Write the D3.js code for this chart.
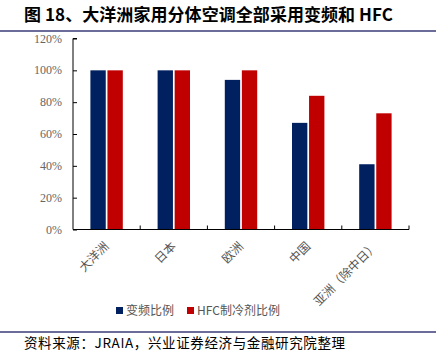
<!DOCTYPE html>
<html><head><meta charset="utf-8">
<script src="https://cdn.jsdelivr.net/npm/d3@7"></script>
<style>body{margin:0;background:#fff}svg{display:block}</style>
</head><body>
<svg id="c" width="436" height="356"></svg>
<script>
const categories = ["大洋洲","日本","欧洲","中国","亚洲（除中日）"];
const seriesNames = ["变频比例","HFC制冷剂比例"];
const inverterRatio = [100,100,94,67,41];
const hfcRatio = [100,100,100,84,73];
const yTicks = [0,20,40,60,80,100,120];
const colors = ["#002060","#C00000"];
const titleText = "图 18、大洋洲家用分体空调全部采用变频和 HFC";
const sourceText = "资料来源：JRAIA，兴业证券经济与金融研究院整理";

const svg = d3.select("#c");
const cjk = "'Noto Sans CJK SC', sans-serif";
const serif = "'Liberation Serif','Times New Roman', serif";

svg.append("text").attr("x",24).attr("y",21).text(titleText)
  .attr("font-family",cjk).attr("font-weight","bold").attr("font-size",17).attr("fill","#000")
  .attr("textLength",369).attr("lengthAdjust","spacing");
svg.append("line").attr("x1",0).attr("x2",436).attr("y1",31).attr("y2",31)
  .attr("stroke","#3b3b78").attr("stroke-width",1.5);
svg.append("line").attr("x1",0).attr("x2",436).attr("y1",332).attr("y2",332)
  .attr("stroke","#3b3b78").attr("stroke-width",1.5);
svg.append("text").attr("x",24).attr("y",348).text(sourceText)
  .attr("font-family",cjk).attr("font-size",13.5).attr("fill","#000")
  .attr("textLength",321).attr("lengthAdjust","spacing");

const x0 = d3.scaleBand().domain(categories).range([73,409]).paddingInner(0).paddingOuter(0);
const x1 = d3.scaleBand().domain([0,1]).range([0,x0.bandwidth()]).paddingInner(0.1).paddingOuter(1.02);
const y = d3.scaleLinear().domain([0,120]).range([229.5,38.5]);

const data = categories.map((c,i)=>({c, v:[inverterRatio[i],hfcRatio[i]]}));
const g = svg.append("g");
g.selectAll("g.cat").data(data).join("g").attr("class","cat")
  .attr("transform",d=>`translate(${x0(d.c)},0)`)
  .selectAll("rect").data(d=>d.v.map((v,k)=>({v,k}))).join("rect")
  .attr("x",d=>x1(d.k)).attr("width",x1.bandwidth())
  .attr("y",d=>y(d.v)).attr("height",d=>y(0)-y(d.v))
  .attr("fill",d=>colors[d.k]);

// y axis
const ya = svg.append("g").attr("transform","translate(73,0)")
  .call(d3.axisRight(y).tickValues(yTicks).tickSize(4).tickFormat(""));
ya.select(".domain").attr("stroke","#000").attr("d","M4,38.5H0V229.5");
ya.selectAll(".tick line").attr("stroke","#000");
svg.append("g").selectAll("text").data(yTicks).join("text")
  .attr("x",62).attr("y",d=>y(d)+4).attr("text-anchor","end")
  .attr("font-family",serif).attr("font-size",12).attr("fill","#666")
  .text(d=>d+"%");

// x axis
const bounds = categories.map(c=>x0(c)+x0.bandwidth());
svg.append("line").attr("x1",73).attr("x2",409).attr("y1",229.5).attr("y2",229.5).attr("stroke","#000");
svg.append("g").selectAll("line").data(bounds).join("line")
  .attr("x1",d=>d).attr("x2",d=>d).attr("y1",229.5).attr("y2",225.5).attr("stroke","#000");
svg.append("g").selectAll("text").data(categories).join("text")
  .attr("transform",d=>`translate(${x0(d)+x0.bandwidth()/2+3},${247}) rotate(-45)`)
  .attr("text-anchor","end").attr("font-family",cjk).attr("font-size",12).attr("fill","#555")
  .text(d=>d);

// legend
const lg = svg.append("g");
const legendX = [116,187];
seriesNames.forEach((s,i)=>{
  lg.append("rect").attr("x",legendX[i]).attr("y",307).attr("width",7).attr("height",7).attr("fill",colors[i]);
  lg.append("text").attr("x",legendX[i]+10).attr("y",315).text(s)
    .attr("font-family",cjk).attr("font-size",12).attr("fill","#555");
});
</script>
</body></html>
